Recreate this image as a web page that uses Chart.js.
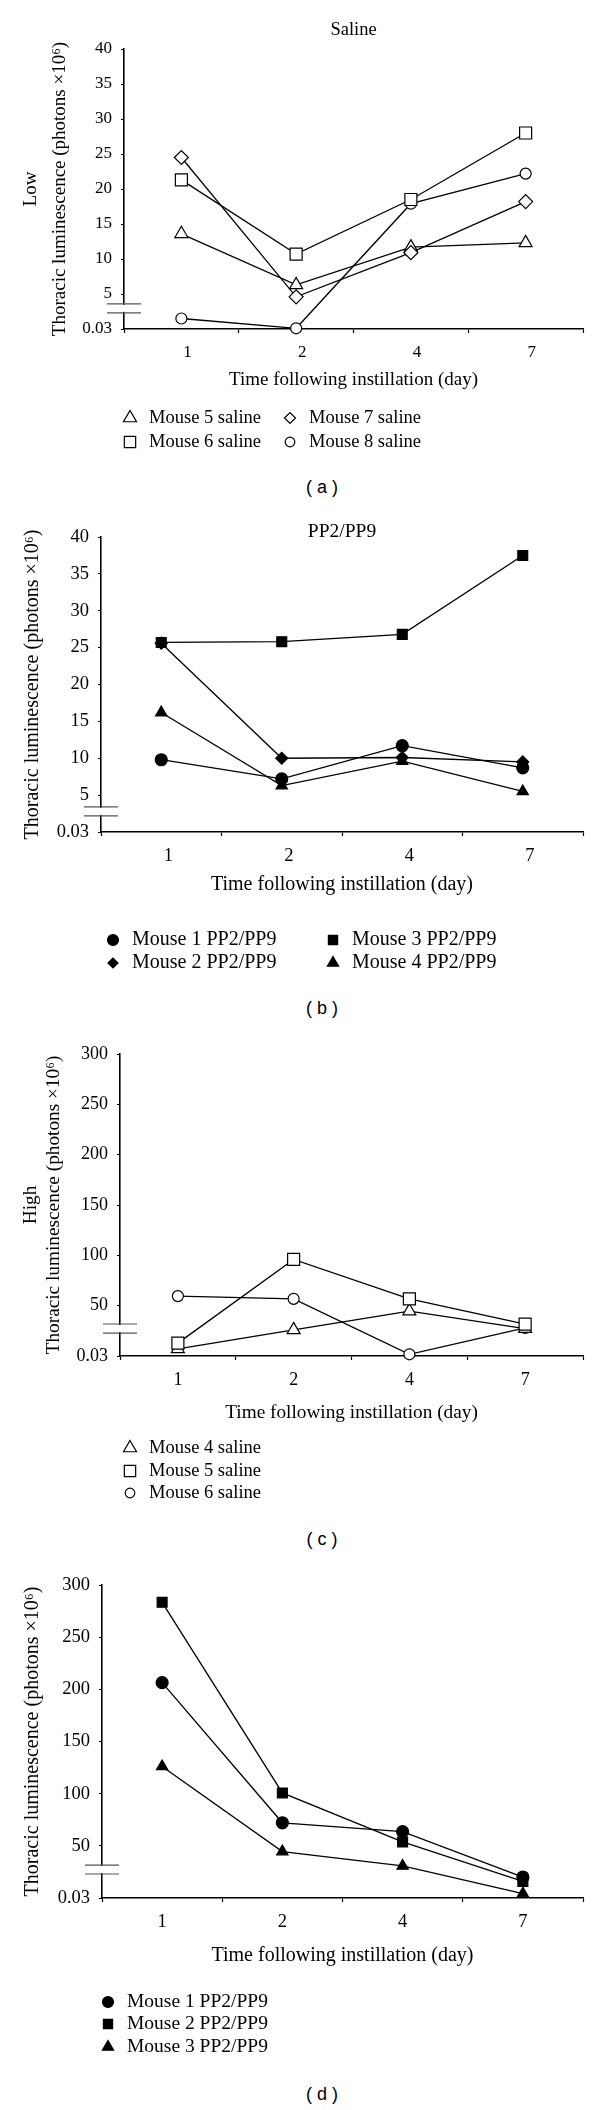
<!DOCTYPE html>
<html lang="en">
<head>
  <meta charset="UTF-8">
  <title>Thoracic luminescence after instillation</title>
  <script src="https://cdn.jsdelivr.net/npm/chart.js@4"></script>
  <style>
    body { margin: 0; background: #fff; }
    #page { position: relative; width: 600px; height: 2110px; overflow: hidden; }
    canvas { position: absolute; left: 0; }
    .tag {
      position: absolute; left: 272px; width: 100px; text-align: center;
      font: 18px "Liberation Sans", Arial, sans-serif; line-height: 20px; color: #000;
      white-space: pre;
    }
  </style>
</head>
<body>
<div id="page">
  <canvas id="chartA" width="600" height="470" style="top:0px"></canvas>
  <div class="tag" style="top:477px">( a )</div>
  <canvas id="chartB" width="600" height="480" style="top:497px"></canvas>
  <div class="tag" style="top:998px">( b )</div>
  <canvas id="chartC" width="600" height="485" style="top:1018px"></canvas>
  <div class="tag" style="top:1529px">( c )</div>
  <canvas id="chartD" width="600" height="510" style="top:1550px"></canvas>
  <div class="tag" style="top:2084px">( d )</div>
</div>

<script>
  // ---- data ----
  const days = ["1", "2", "4", "7"];

  // (a) low dose, saline
  const lowSalineNames = ["Mouse 5 saline", "Mouse 6 saline", "Mouse 7 saline", "Mouse 8 saline"];
  const lowSaline5 = [13.6, 6.3, 11.7, 12.3];
  const lowSaline6 = [21.3, 10.7, 18.5, 28.0];
  const lowSaline7 = [24.5, 4.6, 10.9, 18.2];
  const lowSaline8 = [1.5, 0.1, 17.9, 22.2];

  // (b) low dose, PP2/PP9
  const lowPPNames = ["Mouse 1 PP2/PP9", "Mouse 2 PP2/PP9", "Mouse 3 PP2/PP9", "Mouse 4 PP2/PP9"];
  const lowPP1 = [9.8, 7.2, 11.7, 8.7];
  const lowPP2 = [25.6, 10.0, 10.1, 9.5];
  const lowPP3 = [25.7, 25.8, 26.8, 37.5];
  const lowPP4 = [16.2, 6.3, 9.6, 5.5];

  // (c) high dose, saline
  const highSalineNames = ["Mouse 4 saline", "Mouse 5 saline", "Mouse 6 saline"];
  const highSaline4 = [7.0, 26.0, 44.5, 27.2];
  const highSaline5 = [12.8, 96.0, 56.8, 31.6];
  const highSaline6 = [59.5, 56.8, 1.7, 28.0];

  // (d) high dose, PP2/PP9
  const highPPNames = ["Mouse 1 PP2/PP9", "Mouse 2 PP2/PP9", "Mouse 3 PP2/PP9"];
  const highPP1 = [206.4, 72.1, 63.6, 20.1];
  const highPP2 = [283.4, 100.7, 53.7, 15.9];
  const highPP3 = [126.1, 44.5, 30.7, 4.2];

  const lowTicks = { max: 40, step: 5 };
  const highTicks = { max: 300, step: 50 };
  const xTitle = "Time following instillation (day)";
  const yTitle = "Thoracic luminescence (photons \u00d710\u2076)";

  // ---- styling ----
  const serif = '"Liberation Serif", "Times New Roman", serif';
  const ink = "#000";

  const openSize = { circle: 5.5, rect: 8.5, rectRot: 7, triangle: 7.5 };
  const fillSize = { circle: 6, rect: 7, rectRot: 6, triangle: 6.5 };
  const openKey = { circle: 4.8, rect: 8, rectRot: 5.5, triangle: 7.5 };
  const fillKey = { circle: 5.5, rect: 6.5, rectRot: 5, triangle: 6.5 };

  function series(label, data, style, filled, order) {
    return {
      label, data, order,
      borderColor: ink, borderWidth: 1.3, tension: 0, fill: false, clip: false,
      pointStyle: style,
      pointRadius: (filled ? fillSize : openSize)[style],
      pointBackgroundColor: filled ? ink : "#fff",
      pointBorderColor: ink, pointBorderWidth: 1.2,
      keyRadius: (filled ? fillKey : openKey)[style]
    };
  }

  // two short strokes across the y axis where it is broken
  const axisBreak = {
    id: "axisBreak",
    afterDraw(chart, args, opts) {
      if (!opts.from) return;
      const ctx = chart.ctx, y = chart.scales.y;
      const x0 = chart.chartArea.left;
      const yA = y.getPixelForValue(opts.from), yB = y.getPixelForValue(opts.to);
      ctx.save();
      ctx.fillStyle = "#fff";
      ctx.fillRect(x0 - 2, yA + 1, 4, yB - yA - 2);
      ctx.strokeStyle = "#555";
      ctx.lineWidth = 1.2;
      ctx.beginPath();
      ctx.moveTo(x0 - 17, yA); ctx.lineTo(x0 + 17, yA);
      ctx.moveTo(x0 - 17, yB); ctx.lineTo(x0 + 17, yB);
      ctx.stroke();
      ctx.restore();
    }
  };

  // key under the plot, filled column by column
  const gridKey = {
    id: "gridKey",
    afterDraw(chart, args, opts) {
      if (!opts.cols) return;
      const ctx = chart.ctx;
      ctx.save();
      ctx.font = opts.size + "px " + serif;
      ctx.textBaseline = "middle";
      chart.data.datasets.forEach((ds, i) => {
        const col = Math.floor(i / opts.rows), row = i % opts.rows;
        const x = opts.cols[col], y = opts.rowY[row];
        ctx.fillStyle = ds.pointBackgroundColor;
        ctx.strokeStyle = ink;
        ctx.lineWidth = 1.2;
        Chart.helpers.drawPoint(ctx, { pointStyle: ds.pointStyle, radius: ds.keyRadius, borderWidth: 1.2, rotation: 0 }, x, y);
        ctx.fillStyle = ink;
        ctx.fillText(ds.label, x + 19, y);
      });
      ctx.restore();
    }
  };
  Chart.register(axisBreak, gridKey);

  // g: chart area box (canvas px) plus text placement and font sizes
  function panelOptions(g) {
    const fs = g.fs;
    const axisBottom = g.xTitleY + fs.axis * 0.6;
    return {
      responsive: false,
      animation: false,
      layout: { padding: { top: g.title ? 0 : g.top, right: 600 - g.right, bottom: g.h - axisBottom, left: 0 } },
      plugins: {
        legend: { display: false },
        tooltip: { enabled: false },
        title: g.title ? {
          display: true, text: g.title, color: ink, fullSize: false,
          font: { family: serif, size: fs.title, weight: "normal", lineHeight: 1.2 },
          padding: { top: g.titleY - fs.title * 0.6, bottom: g.top - g.titleY - fs.title * 0.6 }
        } : { display: false },
        axisBreak: g.brk,
        gridKey: Object.assign({ size: fs.key }, g.key)
      },
      scales: {
        x: {
          type: "category",
          offset: true,
          grid: { offset: true, drawOnChartArea: false, tickLength: 4, color: ink, tickWidth: 1.2 },
          border: { color: ink, width: 1.6 },
          ticks: {
            color: ink, font: { family: serif, size: fs.tick }, padding: 9,
            labelOffset: g.labelOffset, maxRotation: 0, autoSkip: false
          },
          title: { display: true, text: xTitle, color: ink, font: { family: serif, size: fs.axis, lineHeight: 1.2 }, padding: 0 },
          afterFit: s => { s.height = axisBottom - g.bottom; }
        },
        y: {
          min: 0, max: g.ticks.max,
          grid: { drawOnChartArea: false, tickLength: 3, color: ink, tickWidth: 1.2 },
          border: { color: ink, width: 1.6 },
          ticks: {
            stepSize: g.ticks.step, color: ink, font: { family: serif, size: fs.tick }, padding: 9,
            callback: v => v === 0 ? "0.03" : v
          },
          title: {
            display: true, text: g.yText, color: ink,
            font: { family: serif, size: fs.axis, lineHeight: g.yLine },
            padding: { top: g.yTitleX - fs.axis * g.yLine / 2, bottom: 0 }
          },
          afterFit: s => { s.width = g.left; }
        }
      }
    };
  }

  // (a)
  new Chart("chartA", {
    type: "line",
    data: {
      labels: days,
      datasets: [
        series(lowSalineNames[0], lowSaline5, "triangle", false, 2),
        series(lowSalineNames[1], lowSaline6, "rect", false, 0),
        series(lowSalineNames[2], lowSaline7, "rectRot", false, 1),
        series(lowSalineNames[3], lowSaline8, "circle", false, 3)
      ]
    },
    options: panelOptions({
      h: 470, left: 124, right: 583, top: 49, bottom: 329, xTitleY: 380,
      title: "Saline", titleY: 30, labelOffset: 6, ticks: lowTicks,
      fs: { tick: 17, axis: 19, key: 18.5, title: 18.5 },
      yText: ["Low", yTitle], yLine: 1.53, yTitleX: 31,
      brk: { from: 3.6, to: 2.3 },
      key: { rows: 2, cols: [130, 290], rowY: [418, 442] }
    })
  });

  // (b)
  new Chart("chartB", {
    type: "line",
    data: {
      labels: days,
      datasets: [
        series(lowPPNames[0], lowPP1, "circle", true, 1),
        series(lowPPNames[1], lowPP2, "rectRot", true, 2),
        series(lowPPNames[2], lowPP3, "rect", true, 0),
        series(lowPPNames[3], lowPP4, "triangle", true, 3)
      ]
    },
    options: panelOptions({
      h: 480, left: 101, right: 583, top: 40, bottom: 335, xTitleY: 388,
      title: "PP2/PP9", titleY: 35, labelOffset: 7, ticks: lowTicks,
      fs: { tick: 18.5, axis: 20, key: 20, title: 19.5 },
      yText: yTitle, yLine: 1.2, yTitleX: 33,
      brk: { from: 3.4, to: 2.2 },
      key: { rows: 2, cols: [113, 333], rowY: [443, 466] }
    })
  });

  // (c)
  new Chart("chartC", {
    type: "line",
    data: {
      labels: days,
      datasets: [
        series(highSalineNames[0], highSaline4, "triangle", false, 1),
        series(highSalineNames[1], highSaline5, "rect", false, 0),
        series(highSalineNames[2], highSaline6, "circle", false, 2)
      ]
    },
    options: panelOptions({
      h: 485, left: 120, right: 583, top: 36, bottom: 338, xTitleY: 395,
      labelOffset: 0, ticks: highTicks,
      fs: { tick: 18, axis: 19.3, key: 18.5 },
      yText: ["High", yTitle], yLine: 1.19, yTitleX: 31,
      brk: { from: 31.8, to: 22.8 },
      key: { rows: 3, cols: [130], rowY: [430, 453, 475] }
    })
  });

  // (d)
  new Chart("chartD", {
    type: "line",
    data: {
      labels: days,
      datasets: [
        series(highPPNames[0], highPP1, "circle", true, 0),
        series(highPPNames[1], highPP2, "rect", true, 1),
        series(highPPNames[2], highPP3, "triangle", true, 2)
      ]
    },
    options: panelOptions({
      h: 510, left: 102, right: 583, top: 35, bottom: 348, xTitleY: 406,
      labelOffset: 0, ticks: highTicks,
      fs: { tick: 18.5, axis: 20, key: 19.5 },
      yText: yTitle, yLine: 1.2, yTitleX: 33,
      brk: { from: 31.6, to: 23.0 },
      key: { rows: 3, cols: [108], rowY: [452, 474, 497] }
    })
  });
</script>
</body>
</html>
